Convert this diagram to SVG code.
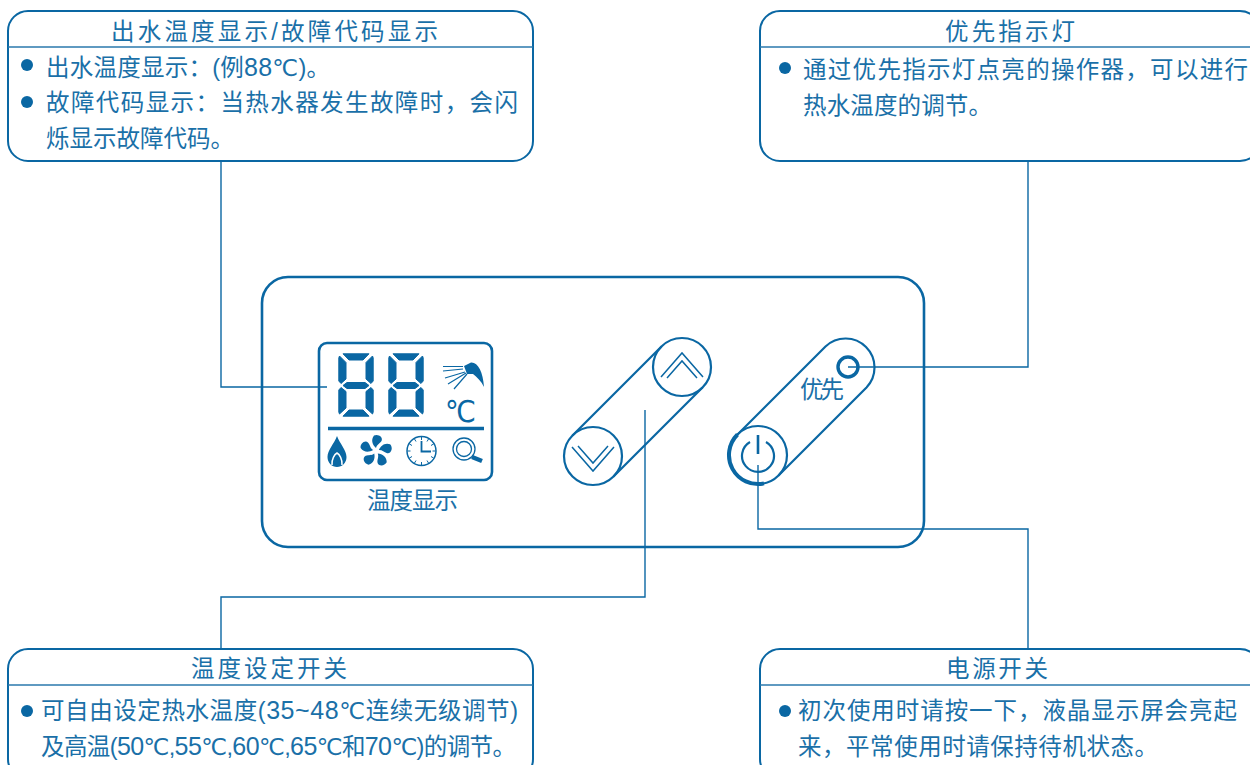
<svg xmlns="http://www.w3.org/2000/svg" width="1250" height="765" viewBox="0 0 1250 765">
<style>
text{font-family:"Liberation Sans","Noto Sans CJK SC",sans-serif;fill:#1a70a8;font-size:23.500px}
.n{font-size:25px}
.c{font-family:"DejaVu Sans",sans-serif;font-size:23px}
.box{fill:#fff;stroke:#0a67a3;stroke-width:2}
.hr{stroke:#2a78ad;stroke-width:1.3;fill:none}
.ln{stroke:#0a67a3;stroke-width:1.4;fill:none}
.s{fill:none;stroke:#0a67a3;stroke-width:2.2}
.dot{fill:#0a67a3}
.seg{fill:#0a67a3;stroke:#0a67a3;stroke-width:1;stroke-linejoin:round}
.b{fill:#0a67a3}
</style>
<defs>
<g id="digit">
<path class="seg" d="M5 .8H31L25 7H11Z"/>
<path class="seg" d="M1.500 3L8 9.500V26L3 30.500L.8 28V5Z"/>
<path class="seg" d="M34.500 3L28 9.500V26L33 30.500L35.200 28V5Z"/>
<path class="seg" d="M5 32.500L9 29.500H27L31 32.500L27 35.500H9Z"/>
<path class="seg" d="M.8 37L3 34.500L8 38.500V55L1.500 61L.8 59Z"/>
<path class="seg" d="M35.200 37L33 34.500L28 38.500V55L34.500 61L35.200 59Z"/>
<path class="seg" d="M5 63.200L11 57H25L31 63.200Z"/>
</g>
<path id="blade" d="M0-3C-3.500-6-5.500-11-2-15.500C2-17.500 7.500-14 5.500-10C3.500-7 1-6.500 0-3Z"/>
</defs>
<g id="node-display-note">
<rect class="box" x="8" y="11" width="525" height="150" rx="20"/>
<path class="hr" d="M8 47H533"/>
<text x="111" y="40" textLength="327">出水温度显示/故障代码显示</text>
<circle class="dot" cx="27" cy="65" r="6"/>
<text x="46" y="76" textLength="284">出水温度显示：(例<tspan class="n">88</tspan><tspan class="c">℃</tspan>)。</text>
<circle class="dot" cx="27" cy="102" r="6"/>
<text x="46" y="111" textLength="472">故障代码显示：当热水器发生故障时，会闪</text>
<text x="46" y="147" textLength="188">烁显示故障代码。</text>
</g>
<g id="node-priority-note">
<rect class="box" x="760" y="11" width="500" height="150" rx="20"/>
<path class="hr" d="M760 47H1260"/>
<text x="945" y="40" textLength="130">优先指示灯</text>
<circle class="dot" cx="785" cy="68" r="6"/>
<text x="803" y="78" textLength="445">通过优先指示灯点亮的操作器，可以进行</text>
<text x="803" y="114" textLength="189">热水温度的调节。</text>
</g>
<g id="node-temp-note">
<rect class="box" x="8" y="649" width="525" height="130" rx="20"/>
<path class="hr" d="M8 685H533"/>
<text x="191" y="677" textLength="156">温度设定开关</text>
<circle class="dot" cx="27" cy="711" r="6"/>
<text x="41" y="719" textLength="477">可自由设定热水温度(<tspan class="n">35~48</tspan><tspan class="c">℃</tspan>连续无级调节)</text>
<text x="41" y="755" textLength="475">及高温(<tspan class="n">50</tspan><tspan class="c">℃</tspan>,<tspan class="n">55</tspan><tspan class="c">℃</tspan>,<tspan class="n">60</tspan><tspan class="c">℃</tspan>,<tspan class="n">65</tspan><tspan class="c">℃</tspan>和<tspan class="n">70</tspan><tspan class="c">℃</tspan>)的调节。</text>
</g>
<g id="node-power-note">
<rect class="box" x="760" y="649" width="500" height="130" rx="20"/>
<path class="hr" d="M760 685H1260"/>
<text x="946" y="677" textLength="102">电源开关</text>
<circle class="dot" cx="785" cy="711" r="6"/>
<text x="798" y="719" textLength="439">初次使用时请按一下，液晶显示屏会亮起</text>
<text x="798" y="755" textLength="360">来，平常使用时请保持待机状态。</text>
</g>
<g id="node-panel">
<rect x="262" y="277" width="662" height="270" rx="26" fill="none" stroke="#0a67a3" stroke-width="2.6"/>
</g>
<g id="node-lcd">
<rect x="319" y="343" width="173" height="137" rx="8" fill="none" stroke="#0a67a3" stroke-width="2.6"/>
<use href="#digit" x="338" y="353"/>
<use href="#digit" x="388" y="353"/>
<path d="M328 428.500H484" stroke="#0a67a3" stroke-width="3.600" fill="none"/>
<path d="M443 366.500H463M443 371L463 369M445 378L465 372M448 384L466 373M454 389L467 374" stroke="#0a67a3" stroke-width="1.200" fill="none"/>
<path class="b" d="M464 366L471 362.500C478 362 483 372 484 387C481 381 477 377 473 374L467 374Z"/>
<text x="445" y="422" style="font-size:30px;fill:#0a67a3;font-family:'DejaVu Sans',sans-serif" textLength="31" lengthAdjust="spacingAndGlyphs">℃</text>
<path class="b" d="M337 436C340 444 346.500 450 346.500 457C346.500 463 342 467 337 467C332 467 327.500 463 327.500 457C327.500 450 334 444 337 436Z"/>
<path d="M332 465C331.500 459 334.500 454.500 337 453C339.500 454.500 342.500 459 342 465" fill="none" stroke="#fff" stroke-width="1.500"/>
<g class="b" transform="translate(376 451)">
<use href="#blade"/>
<use href="#blade" transform="rotate(72)"/>
<use href="#blade" transform="rotate(144)"/>
<use href="#blade" transform="rotate(216)"/>
<use href="#blade" transform="rotate(288)"/>
</g>
<circle cx="421.500" cy="451" r="14.500" fill="none" stroke="#0a67a3" stroke-width="1.500"/>
<path d="M421.500 441V451.500H431" fill="none" stroke="#0a67a3" stroke-width="1.800"/>
<path d="M421.500 437V440M421.500 462V465M407.500 451H410.500M432.500 451H435.500M414.500 439L416 441.500M428.500 439L427 441.500M414.500 463L416 460.500M428.500 463L427 460.500M409.500 444L412 445.500M433.500 444L431 445.500M409.500 458L412 456.500M433.500 458L431 456.500" stroke="#0a67a3" stroke-width="1" fill="none"/>
<circle cx="464" cy="449" r="11" fill="none" stroke="#0a67a3" stroke-width="1.300"/>
<circle cx="464" cy="449" r="7.500" fill="none" stroke="#0a67a3" stroke-width="1.300"/>
<path d="M472 457L482 461" stroke="#0a67a3" stroke-width="4.500" fill="none"/>
<text x="367" y="509" textLength="91">温度显示</text>
</g>
<g id="node-updown">
<path class="s" d="M661.500 346.500L572.500 435.500M702.500 387.500L613.500 476.500"/>
<circle class="s" cx="682" cy="367" r="29"/>
<circle class="s" cx="593" cy="456" r="29"/>
<path d="M661 377L682 353L703 377M667 378L682 361L697 378" fill="none" stroke="#0a67a3" stroke-width="1.500"/>
<path d="M572 447L593 471L614 447M578 446L593 463L608 446" fill="none" stroke="#0a67a3" stroke-width="1.500"/>
</g>
<g id="node-power">
<path class="s" d="M737.500 434.500L825.500 346.500A29 29 0 0 1 866.500 387.500L778.500 475.500"/>
<circle class="s" cx="758" cy="455" r="29"/>
<path d="M737.500 434.500A29 29 0 0 0 764 483.400" fill="none" stroke="#0a67a3" stroke-width="4"/>
<path d="M758 435V454" stroke="#0a67a3" stroke-width="2.600" fill="none"/>
<path d="M750 442A16 16 0 1 0 766 442" fill="none" stroke="#0a67a3" stroke-width="2.200"/>
<circle cx="848" cy="367" r="10" fill="none" stroke="#0a67a3" stroke-width="3.400"/>
<text x="800" y="398" textLength="44">优先</text>
</g>
<g id="connectors">
<path class="ln" d="M221 160V387H327"/>
<path class="ln" d="M1028 160V367H848"/>
<path class="ln" d="M645 410V597H221V650"/>
<path class="ln" d="M758 465V529H1028V650"/>
</g>
</svg>
